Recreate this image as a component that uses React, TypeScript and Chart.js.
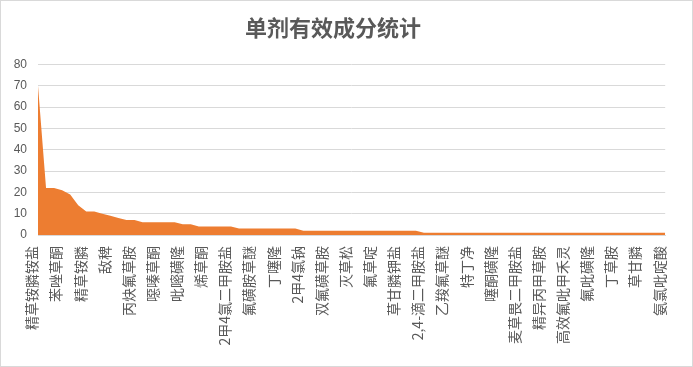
import React, { useEffect, useRef } from "react";
import { Chart, registerables } from "chart.js";

Chart.register(...registerables);

const chartTitle = "单剂有效成分统计";

const categories = [
  "精草铵膦铵盐", "草铵膦", "硝磺草酮", "苯唑草酮", "莠去津", "烟嘧磺隆",
  "精草铵膦", "二氯喹啉酸", "氰氟草酯", "敌稗", "五氟磺草胺", "乙氧氟草醚",
  "丙炔氟草胺", "二甲戊灵", "乙草胺", "噁嗪草酮", "苄嘧磺隆", "丙草胺",
  "吡嘧磺隆", "精喹禾灵", "异丙甲草胺", "烯草酮", "扑草净", "莠灭净",
  "2甲4氯二甲胺盐", "敌草快", "氯氟吡氧乙酸", "氟磺胺草醚", "噁草酮", "唑草酮",
  "丁噻隆", "苯磺隆", "噻吩磺隆", "2甲4氯钠", "甲基二磺隆", "炔草酯",
  "双氟磺草胺", "唑啉草酯", "双草醚", "灭草松", "嘧草醚", "氯吡嘧磺隆",
  "氟草啶", "砜嘧磺隆", "溴苯腈", "草甘膦钾盐", "辛酰溴苯腈", "2甲4氯异辛酯",
  "2,4-滴二甲胺盐", "2,4-滴异辛酯", "环磺酮", "乙羧氟草醚", "苯嘧磺草胺", "氟唑磺隆",
  "特丁净", "啶磺草胺", "异噁草松", "噻酮磺隆", "仲丁灵", "敌草隆",
  "麦草畏二甲胺盐", "西草净", "吡草醚", "精异丙甲草胺", "嗪草酮", "精吡氟禾草灵",
  "高效氟吡甲禾灵", "草除灵", "二氯吡啶酸", "氟吡磺隆", "氯氨吡啶酸", "三氯吡氧乙酸",
  "丁草胺", "甲咪唑烟酸", "咪唑乙烟酸", "草甘膦", "氨唑草酮", "异丙隆",
  "氨氯吡啶酸",
];

const counts = [
  70, 22, 22, 21, 19, 14, 11, 11, 10, 9, 8, 7, 7,
  6, 6, 6, 6, 6,
  5, 5,
  4, 4, 4, 4, 4,
  3, 3, 3, 3, 3, 3, 3, 3,
  2, 2, 2, 2, 2, 2, 2, 2, 2, 2, 2, 2, 2, 2, 2,
  1, 1, 1, 1, 1, 1, 1, 1, 1, 1, 1, 1, 1, 1, 1, 1,
  1, 1, 1, 1, 1, 1, 1, 1, 1, 1, 1, 1, 1, 1, 1,
];

const yTicks = { min: 0, max: 80, step: 10 };
const labelInterval = 3;

export default function App() {
  const ref = useRef<HTMLCanvasElement>(null);

  useEffect(() => {
    document.body.style.margin = "0";
    const canvas = ref.current;
    if (!canvas) return;
    const chart = new Chart(canvas, {
      type: "line",
      data: {
        labels: categories,
        datasets: [
          {
            data: counts,
            fill: "origin",
            backgroundColor: "#ED7D31",
            borderColor: "#ED7D31",
            borderWidth: 0,
            pointRadius: 0,
            tension: 0,
          },
        ],
      },
      options: {
        responsive: false,
        animation: false,
        layout: { padding: { left: 0, right: 27, top: 0, bottom: 0 } },
        plugins: {
          legend: { display: false },
          tooltip: { enabled: false },
          title: {
            display: true,
            text: chartTitle,
            color: "#595959",
            font: { family: "'Noto Sans CJK SC'", size: 22, weight: "bold" },
            padding: { top: 14, bottom: 24 },
          },
        },
        scales: {
          x: {
            offset: false,
            grid: { display: false, drawTicks: false },
            border: { display: true, color: "#d9d9d9" },
            afterFit: (scale: any) => {
              scale.height = 132;
            },
            ticks: {
              autoSkip: false,
              minRotation: 90,
              maxRotation: 90,
              padding: 11,
              labelOffset: -6,
              color: "#595959",
              font: { family: "'Noto Sans CJK SC'", size: 14 },
              callback: (_v: any, i: number) =>
                i % labelInterval === 0 ? categories[i] : "",
            },
          },
          y: {
            min: yTicks.min,
            max: yTicks.max,
            grid: { color: "#d9d9d9", drawTicks: false },
            border: { display: false },
            afterFit: (scale: any) => {
              scale.width = 38;
            },
            ticks: {
              stepSize: yTicks.step,
              padding: 11,
              color: "#595959",
              font: { family: "'Liberation Sans'", size: 12 },
            },
          },
        },
      },
    });
    return () => chart.destroy();
  }, []);

  return (
    <canvas
      ref={ref}
      width={693}
      height={367}
      style={{
        display: "block",
        width: 693,
        height: 367,
        outline: "1px solid #d9d9d9",
        outlineOffset: -1,
      }}
    />
  );
}
